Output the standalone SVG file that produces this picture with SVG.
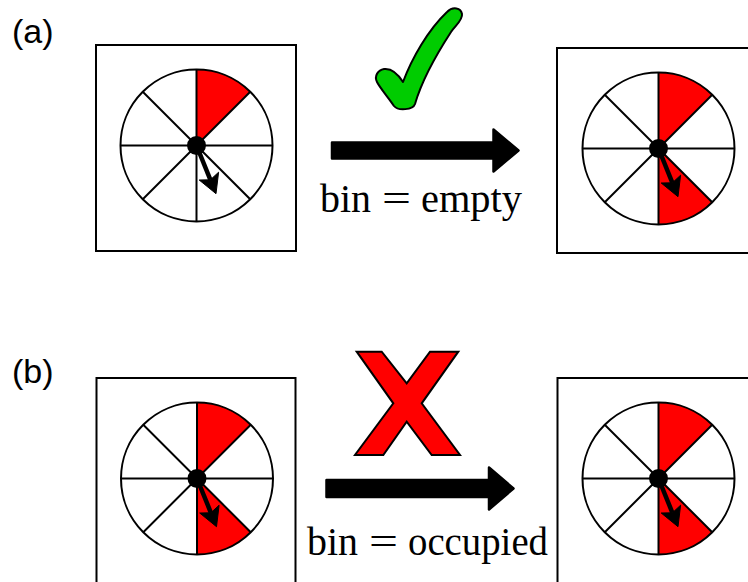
<svg xmlns="http://www.w3.org/2000/svg" xmlns:xlink="http://www.w3.org/1999/xlink" width="748" height="582" viewBox="0 0 748 582">
<style>
.box{fill:#fff;stroke:#000;stroke-width:2}
.red{fill:#ff0000}
.ln{stroke:#000;stroke-width:2;fill:none}
.lbl{font-family:"Liberation Sans",Arial,sans-serif;font-size:34px;fill:#000}
.math{font-family:"Liberation Serif","Times New Roman",serif;font-size:39px;fill:#000}
.big{fill:#000;stroke:#000;stroke-width:2.5;stroke-linejoin:round}
</style>
<defs>
<circle id="face" r="76" fill="#fff"/>
<path id="secTop" class="red" d="M0,0 L0,-76 A76,76 0 0 1 53.74,-53.74 Z"/>
<path id="secLR" class="red" d="M0,0 L53.74,53.74 A76,76 0 0 1 0,76 Z"/>
<g id="lines">
<line class="ln" x1="0" y1="-76" x2="0" y2="76"/>
<line class="ln" x1="-76" y1="0" x2="76" y2="0"/>
<line class="ln" x1="-53.74" y1="-53.74" x2="53.74" y2="53.74"/>
<line class="ln" x1="-53.74" y1="53.74" x2="53.74" y2="-53.74"/>
<circle class="ln" r="76"/>
<circle r="9.5" fill="#000"/>
<line x1="0" y1="0" x2="13.9" y2="34.3" stroke="#000" stroke-width="4.5"/>
<path d="M19.5,48.2 L22.1,26.7 L13.9,34.3 L2.7,34.5 Z" fill="#000" stroke="#000" stroke-width="1" stroke-linejoin="miter"/>
</g>
</defs>

<text class="lbl" x="12" y="43">(a)</text>
<text class="lbl" x="12" y="383">(b)</text>

<g id="a-left">
<rect class="box" x="96" y="45" width="200" height="206"/>
<g transform="translate(196.5,145.5)">
<use xlink:href="#face"/><use xlink:href="#secTop"/><use xlink:href="#lines"/>
</g>
</g>

<g id="a-right">
<rect class="box" x="557" y="48" width="200" height="205"/>
<g transform="translate(658.5,148.5)">
<use xlink:href="#face"/><use xlink:href="#secTop"/><use xlink:href="#secLR"/><use xlink:href="#lines"/>
</g>
</g>

<g id="b-left">
<rect class="box" x="96.5" y="378" width="199" height="212"/>
<g transform="translate(197,478.5)">
<use xlink:href="#face"/><use xlink:href="#secTop"/><use xlink:href="#secLR"/><use xlink:href="#lines"/>
</g>
</g>

<g id="b-right">
<rect class="box" x="557.5" y="378" width="200" height="212"/>
<g transform="translate(658.5,478.5)">
<use xlink:href="#face"/><use xlink:href="#secTop"/><use xlink:href="#secLR"/><use xlink:href="#lines"/>
</g>
</g>

<g id="check">
<path d="M403,82 C412,58 428,30 447,12 C453,6 461,8 462,14 C463,20 455,26 451,32 C438,52 422,80 415,104 C413,110 398,111 394,106 C388,97 380,88 377,82 C374,76 378,70 384,69 C392,68 398,74 403,82 Z" fill="#00cc00" stroke="#000" stroke-width="2" stroke-linejoin="round"/>
</g>

<g id="cross">
<polygon points="356.7,351.7 381.7,351.7 406.7,383.3 430,351.7 458.3,351.7 421.7,403.3 460,455 431.7,455 406.7,421.7 383.3,455 355,455 393.3,403.3" fill="#ff0000" stroke="#000" stroke-width="2" stroke-linejoin="miter"/>
</g>

<g id="connectors">
<path class="big" d="M332,142.5 L493.5,142.5 L493.5,129.5 L518.5,150.5 L493.5,171.5 L493.5,158.5 L332,158.5 Z"/>
<path class="big" d="M326.5,480 L489,480 L489,467.5 L513.5,488.5 L489,509.5 L489,497 L326.5,497 Z"/>
</g>

<g id="label-a">
<text class="math" y="212"><tspan x="320" textLength="51" lengthAdjust="spacingAndGlyphs">bin</tspan><tspan x="382" textLength="29" lengthAdjust="spacingAndGlyphs">=</tspan><tspan x="421" textLength="101" lengthAdjust="spacingAndGlyphs">empty</tspan></text>
</g>
<g id="label-b">
<text class="math" y="555"><tspan x="307" textLength="51" lengthAdjust="spacingAndGlyphs">bin</tspan><tspan x="369" textLength="29" lengthAdjust="spacingAndGlyphs">=</tspan><tspan x="408" textLength="140" lengthAdjust="spacingAndGlyphs">occupied</tspan></text>
</g>
</svg>
